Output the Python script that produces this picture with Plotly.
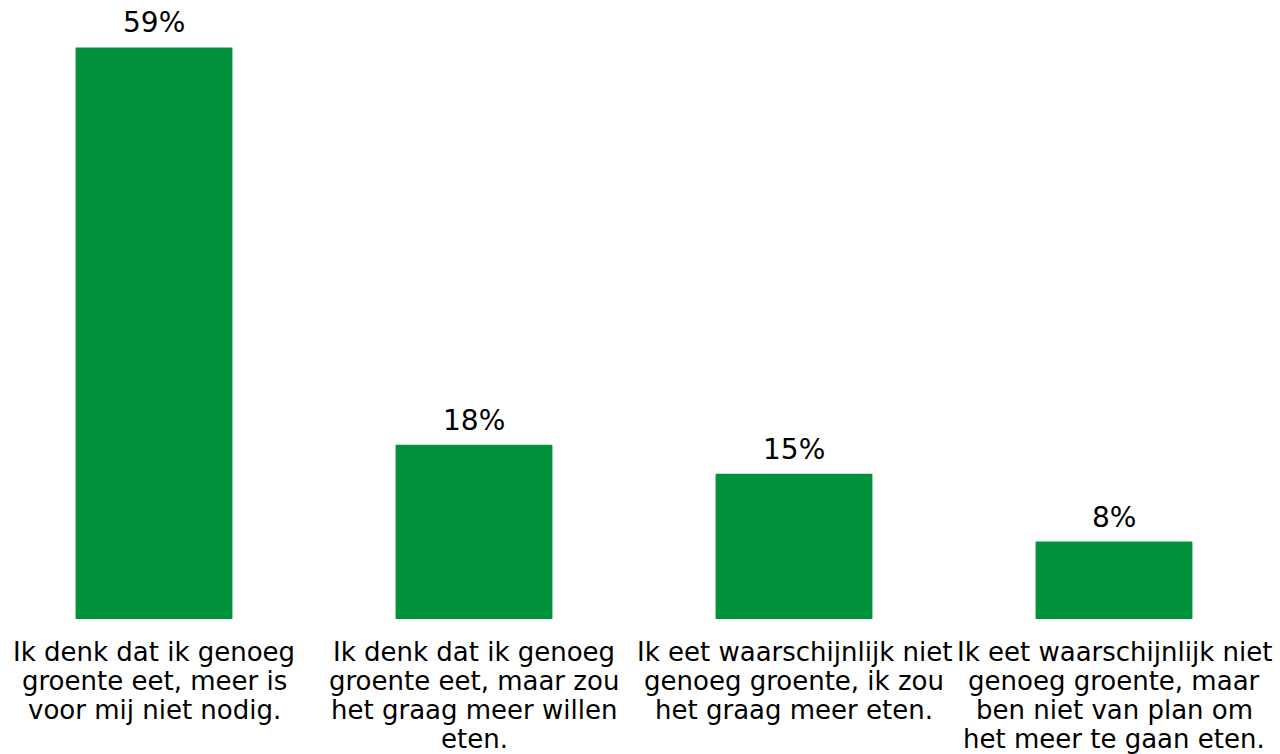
import plotly.graph_objects as go

categories = [
    "Ik denk dat ik genoeg\ngroente eet, meer is\nvoor mij niet nodig.",
    "Ik denk dat ik genoeg\ngroente eet, maar zou\nhet graag meer willen\neten.",
    "Ik eet waarschijnlijk niet\ngenoeg groente, ik zou\nhet graag meer eten.",
    "Ik eet waarschijnlijk niet\ngenoeg groente, maar\nben niet van plan om\nhet meer te gaan eten.",
]
values = [59, 18, 15, 8]

FONT = "Verdana, DejaVu Sans, sans-serif"
GREEN = "#00923A"

xs = list(range(len(values)))

fig = go.Figure(
    go.Bar(
        x=xs,
        y=values,
        width=0.49,
        marker=dict(color=GREEN, line=dict(width=0)),
        hoverinfo="skip",
    )
)

# value labels above the bars
for x, v in zip(xs, values):
    fig.add_annotation(
        x=x, y=v, text=f"{v}%", showarrow=False,
        yanchor="bottom", yshift=6,
        font=dict(family=FONT, size=28, color="#000000"),
    )

# category labels under the bars, one annotation per line for tight leading
LINE_GAP = 29
FIRST_LINE = 33
for x, label in zip(xs, categories):
    for i, line in enumerate(label.split("\n")):
        fig.add_annotation(
            x=x, y=0, text=line, showarrow=False,
            xanchor="center", yanchor="middle",
            yshift=-(FIRST_LINE + LINE_GAP * i),
            font=dict(family=FONT, size=26, color="#000000"),
        )

fig.update_layout(
    width=1280, height=754,
    margin=dict(l=0, r=0, t=0, b=135),
    paper_bgcolor="white", plot_bgcolor="white",
    showlegend=False,
    font=dict(family=FONT, size=26, color="#000000"),
    xaxis=dict(
        range=[-0.48125, 3.51875],
        tickvals=xs, showticklabels=False,
        showgrid=False, zeroline=False, showline=False, ticks="",
    ),
    yaxis=dict(
        range=[0, 63.9],
        visible=False, showgrid=False, zeroline=False,
    ),
)

fig.write_html("out.html")
